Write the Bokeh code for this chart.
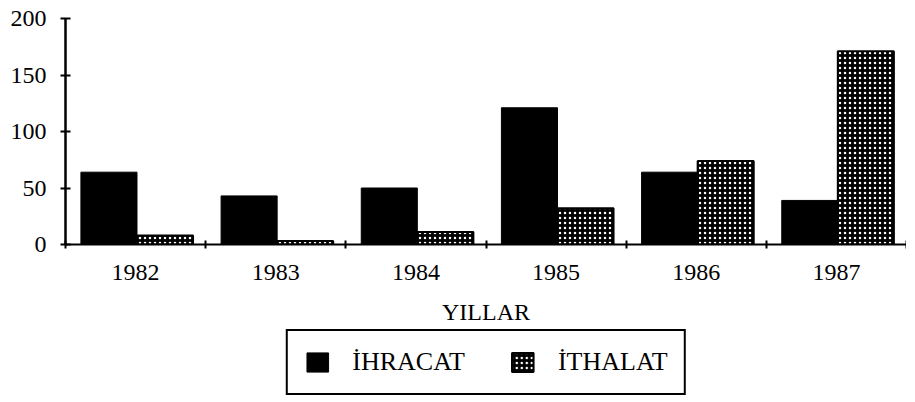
import numpy as np
from bokeh.plotting import figure
from bokeh.layouts import column, row
from bokeh.models import (ColumnDataSource, Range1d, FixedTicker, Legend, LegendItem, Spacer)
from bokeh.transform import dodge
from bokeh.embed import file_html
from bokeh.resources import INLINE

years = ["1982", "1983", "1984", "1985", "1986", "1987"]
ihracat = [64, 43, 50, 121, 64, 39]
ithalat = [8, 3, 11, 32, 74, 171]
y_ticks = [0, 50, 100, 150, 200]

FONT = "Liberation Serif"

xc = np.arange(len(years)) + 0.5
src = ColumnDataSource(dict(x=xc, ihracat=ihracat, ithalat=ithalat))

p = figure(frame_width=841, frame_height=226, output_backend="svg", toolbar_location=None,
           x_range=Range1d(0, len(years)), y_range=Range1d(0, 200),
           min_border_left=0, min_border_right=0, min_border_top=0, min_border_bottom=0)
p.title.text = " "
p.title.text_font_size = "5px"
p.background_fill_color = "white"
p.border_fill_color = "white"
p.outline_line_color = None
p.xgrid.visible = False
p.ygrid.visible = False

ihr_style = dict(fill_color="black", line_color="black", line_width=1)
ith_style = dict(fill_color="black", line_color="black", line_width=2,
                 hatch_pattern="dot", hatch_color="white", hatch_scale=5, hatch_weight=1)

r1 = p.vbar(x=dodge("x", -0.19), top="ihracat", width=0.4, source=src, **ihr_style)
r2 = p.vbar(x=dodge("x", 0.21), top="ithalat", width=0.4, source=src, **ith_style)

# x axis: labels at centres, tick marks at category boundaries
xa = p.xaxis[0]
xa.ticker = FixedTicker(ticks=list(xc), minor_ticks=list(range(len(years) + 1)))
xa.major_label_overrides = {float(v): y for v, y in zip(xc, years)}
xa.major_tick_line_alpha = 0
xa.major_tick_in = 0
xa.major_tick_out = 4
xa.minor_tick_in = 4
xa.minor_tick_out = 4
xa.minor_tick_line_width = 2
xa.minor_tick_line_color = "black"
xa.axis_line_width = 2
xa.axis_line_color = "black"
xa.major_label_standoff = 16
xa.major_label_text_font = FONT
xa.major_label_text_font_size = "24px"
xa.major_label_text_color = "black"
xa.axis_label = "YILLAR"
xa.axis_label_text_font = FONT
xa.axis_label_text_font_size = "24px"
xa.axis_label_text_font_style = "normal"
xa.axis_label_text_color = "black"
xa.axis_label_standoff = 16

ya = p.yaxis[0]
ya.ticker = FixedTicker(ticks=y_ticks, minor_ticks=[])
ya.major_tick_in = 5
ya.major_tick_out = 5
ya.major_tick_line_width = 2
ya.major_tick_line_color = "black"
ya.axis_line_width = 2.5
ya.axis_line_color = "black"
ya.major_label_standoff = 14
ya.major_label_text_font = FONT
ya.major_label_text_font_size = "24px"
ya.major_label_text_color = "black"

# legend in its own strip under the chart
lg = figure(width=835, height=70, output_backend="svg", toolbar_location=None,
            x_range=Range1d(0, 1), y_range=Range1d(0, 1), min_border=0)
lg.axis.visible = False
lg.grid.visible = False
lg.outline_line_color = None
lg.background_fill_color = "white"
lg.border_fill_color = "white"
# legend-only renderers: their bars lie outside the visible range
hidden = ColumnDataSource(dict(x=[5.0], top=[0.0]))
l1 = lg.vbar(x="x", top="top", width=0.4, source=hidden, **ihr_style)
l2 = lg.vbar(x="x", top="top", width=0.4, source=hidden, **ith_style)

legend = Legend(items=[LegendItem(label="İHRACAT", renderers=[l1]),
                       LegendItem(label="İTHALAT", renderers=[l2])],
                orientation="horizontal", location="center")
legend.label_text_font = FONT
legend.label_text_font_size = "26px"
legend.label_text_color = "black"
legend.glyph_width = 27
legend.glyph_height = 24
legend.label_standoff = 22
legend.spacing = 44
legend.padding = 16
legend.margin = 0
legend.border_line_color = "black"
legend.border_line_alpha = 1
legend.border_line_width = 2
legend.background_fill_color = "white"
lg.add_layout(legend)

layout = column(row(Spacer(width=7), p), row(Spacer(width=68), lg), spacing=0)
open("out.html", "w").write(file_html(layout, INLINE))
